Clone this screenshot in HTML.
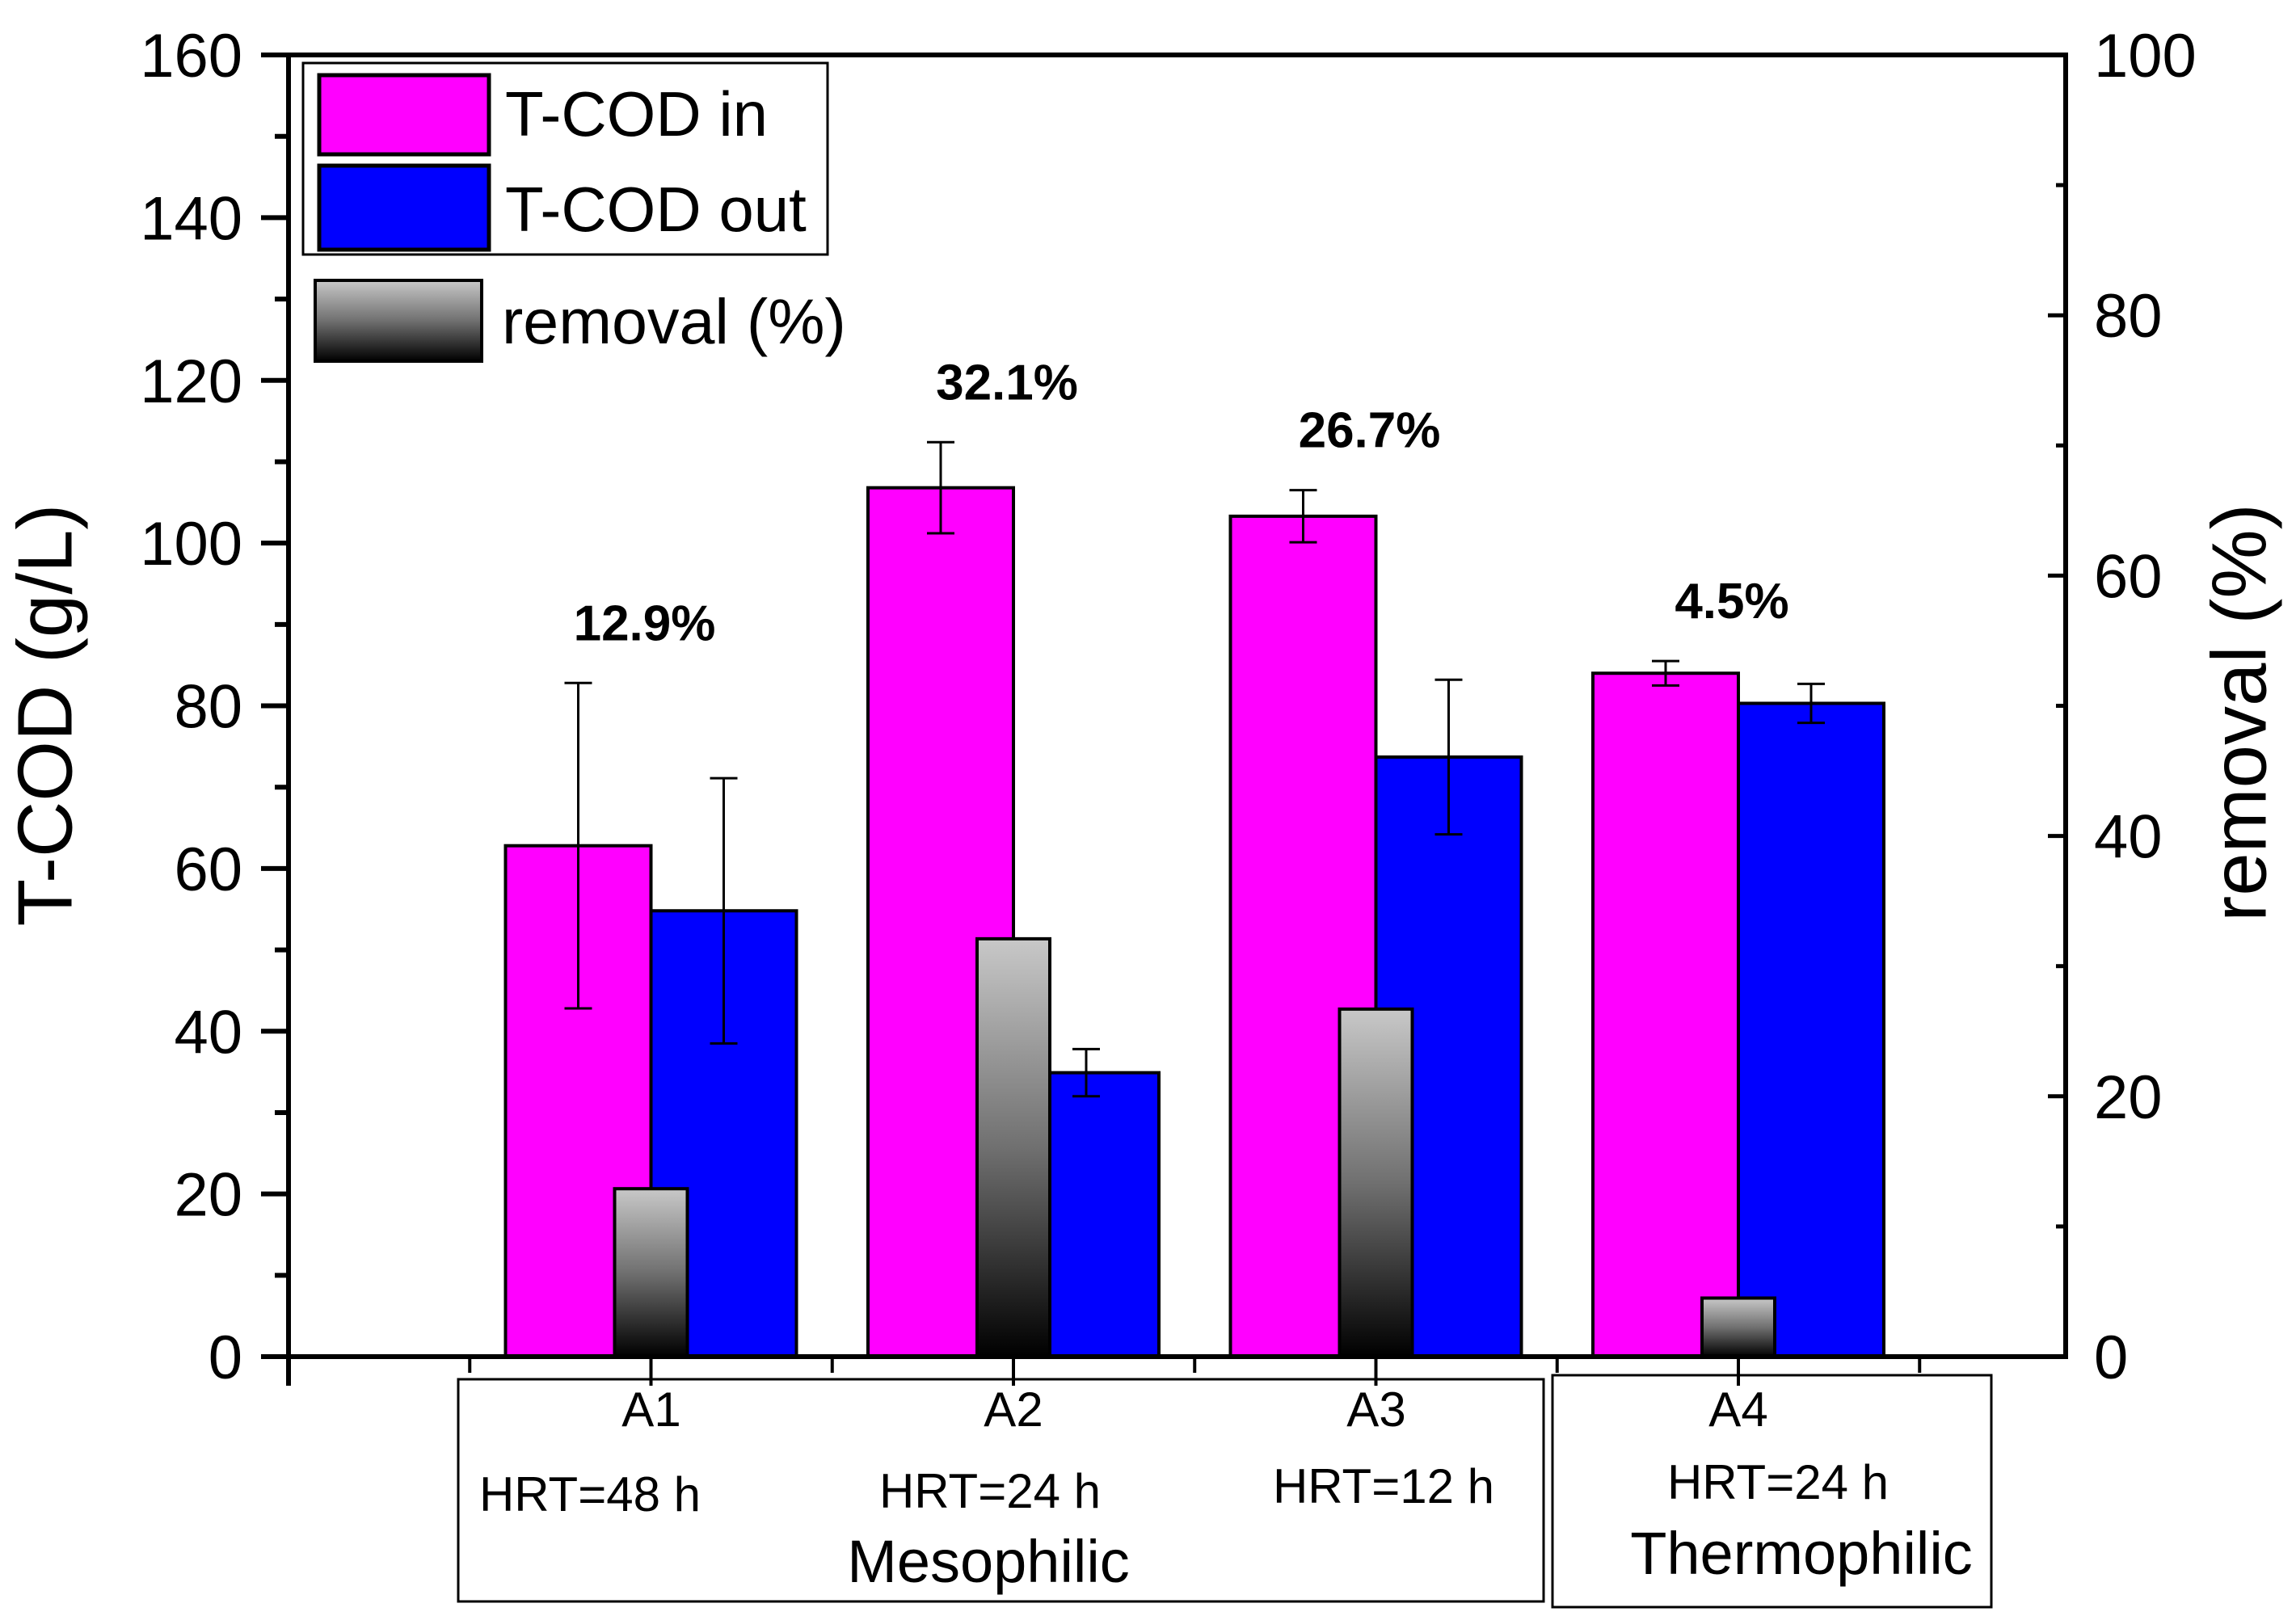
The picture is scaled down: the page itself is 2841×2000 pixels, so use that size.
<!DOCTYPE html>
<html><head><meta charset="utf-8"><style>
html,body{margin:0;padding:0;background:#fff}
svg{display:block}
text{font-family:"Liberation Sans",sans-serif;fill:#000}
</style></head><body>
<svg id="chart" width="2841" height="2000" viewBox="0 0 2841 2000" xmlns="http://www.w3.org/2000/svg">
<defs>
<linearGradient id="gray" x1="0" y1="0" x2="0" y2="1">
<stop offset="0" stop-color="#c8c8c8"/><stop offset="0.5" stop-color="#707070"/><stop offset="1" stop-color="#000"/>
</linearGradient>
</defs>
<g id="plot"></g>
</svg>
<script>
const categories = ["A1","A2","A3","A4"];
const codIn = [62.8, 106.8, 103.3, 84.0];
const codInErr = [20.0, 5.6, 3.2, 1.5];
const codOut = [54.8, 34.9, 73.7, 80.3];
const codOutErr = [16.3, 2.9, 9.5, 2.4];
const removal = [12.9, 32.1, 26.7, 4.5];
const removalLabels = ["12.9%","32.1%","26.7%","4.5%"];
const leftTicks = [0,20,40,60,80,100,120,140,160];
const rightTicks = [0,20,40,60,80,100];

const NS="http://www.w3.org/2000/svg";
const L=357,R=2556,T=68,B=1679;
const yL=v=>B-(v/160)*(B-T);
const yR=v=>B-(v/100)*(B-T);
const xC=i=>L+(i+1)*448.5;
const g=document.getElementById('plot');
function mk(tag,a,parent){const e=document.createElementNS(NS,tag);for(const k in a)e.setAttribute(k,a[k]);(parent||g).appendChild(e);return e;}

categories.forEach((c,i)=>{
  const cx=xC(i);
  let e=mk('rect',{x:cx-180,y:yL(codIn[i]),width:180,height:B-yL(codIn[i]),fill:'#ff00ff',stroke:'#000','stroke-width':4});
  
  
  e=mk('rect',{x:cx,y:yL(codOut[i]),width:180,height:B-yL(codOut[i]),fill:'#0000ff',stroke:'#000','stroke-width':4});
  
  
});
categories.forEach((c,i)=>{
  const cx=xC(i);
  const e=mk('rect',{x:cx-45,y:yR(removal[i]),width:90,height:B-yR(removal[i]),fill:'url(#gray)',stroke:'#000','stroke-width':4});
  
  
});
function err(x,v,d,name){
  const eg=mk('g',{stroke:'#000','stroke-width':3});
  
  
  mk('line',{x1:x,x2:x,y1:yL(v+d),y2:yL(v-d)},eg);
  mk('line',{x1:x-17,x2:x+17,y1:yL(v+d),y2:yL(v+d)},eg);
  mk('line',{x1:x-17,x2:x+17,y1:yL(v-d),y2:yL(v-d)},eg);
}
categories.forEach((c,i)=>{
  const cx=xC(i);
  err(cx-90,codIn[i],codInErr[i],'error-bar-in-'+c.toLowerCase());
  err(cx+90,codOut[i],codOutErr[i],'error-bar-out-'+c.toLowerCase());
  const t=mk('text',{x:cx-8,y:yL(codIn[i]+codInErr[i])-53,'text-anchor':'middle','font-size':62,'font-weight':'bold'});
  t.textContent=removalLabels[i];
  
  
});
const ax=mk('g',{stroke:'#000','stroke-width':6,fill:'none'});


mk('line',{x1:323,x2:R+3,y1:T,y2:T},ax);
mk('line',{x1:L,x2:L,y1:T,y2:B+36},ax);
mk('line',{x1:R,x2:R,y1:T,y2:B},ax);
mk('line',{x1:323,x2:R+3,y1:B,y2:B},ax);
leftTicks.forEach(v=>{
  mk('line',{x1:323,x2:L,y1:yL(v),y2:yL(v),stroke:'#000','stroke-width':6});
  if(v<160) mk('line',{x1:340,x2:L,y1:yL(v+10),y2:yL(v+10),stroke:'#000','stroke-width':6});
  const t=mk('text',{x:300,y:yL(v)+27,'text-anchor':'end','font-size':76});
  t.textContent=v;
  
  
});
rightTicks.forEach(v=>{
  mk('line',{x1:R-22,x2:R,y1:yR(v),y2:yR(v),stroke:'#000','stroke-width':5});
  if(v<100) mk('line',{x1:R-12,x2:R,y1:yR(v+10),y2:yR(v+10),stroke:'#000','stroke-width':5});
  const t=mk('text',{x:2591,y:yR(v)+27,'text-anchor':'start','font-size':76});
  t.textContent=v;
  
  
});
for(let k=0;k<=9;k++){
  const x=L+k*224.25;
  if(x>R)break;
  const major=(k%2===0);
  mk('line',{x1:x,x2:x,y1:B,y2:B+(major?36:20),stroke:'#000','stroke-width':4});
}
</script>
<svg style="position:absolute;left:0;top:0" width="2841" height="2000" xmlns="http://www.w3.org/2000/svg">
<text x="63" y="885" font-size="96" text-anchor="middle" transform="rotate(-90 63 885)" dominant-baseline="middle">T-COD (g/L)</text>
<text x="2778" y="882" font-size="96" text-anchor="middle" transform="rotate(-90 2778 882)" dominant-baseline="middle">removal (%)</text>
<g>
<rect x="375" y="78" width="649" height="237" fill="none" stroke="#000" stroke-width="3"/>
<rect x="395" y="93" width="210" height="98" fill="#ff00ff" stroke="#000" stroke-width="5"/>
<text x="625" y="168" font-size="78">T-COD in</text>
<rect x="395" y="205" width="210" height="104" fill="#0000ff" stroke="#000" stroke-width="5"/>
<text x="625" y="286" font-size="78">T-COD out</text>
<rect x="390" y="347" width="206" height="100" fill="url(#gray)" stroke="#000" stroke-width="4"/>
<text x="621" y="425" font-size="79">removal (%)</text>
</g>
<g>
<rect x="567" y="1707" width="1343" height="275" fill="none" stroke="#000" stroke-width="3"/>
<text x="806" y="1765" font-size="60" text-anchor="middle">A1</text>
<text x="1254" y="1765" font-size="60" text-anchor="middle">A2</text>
<text x="1703" y="1765" font-size="60" text-anchor="middle">A3</text>
<text x="730" y="1870" font-size="60" text-anchor="middle">HRT=48 h</text>
<text x="1225" y="1866" font-size="60" text-anchor="middle">HRT=24 h</text>
<text x="1712" y="1860" font-size="60" text-anchor="middle">HRT=12 h</text>
<text x="1223" y="1958" font-size="74" text-anchor="middle">Mesophilic</text>
</g>
<g>
<rect x="1921" y="1702" width="543" height="287" fill="none" stroke="#000" stroke-width="3"/>
<text x="2151" y="1765" font-size="60" text-anchor="middle">A4</text>
<text x="2200" y="1855" font-size="60" text-anchor="middle">HRT=24 h</text>
<text x="2229" y="1948" font-size="74" text-anchor="middle">Thermophilic</text>
</g>
</svg>
</body></html>
